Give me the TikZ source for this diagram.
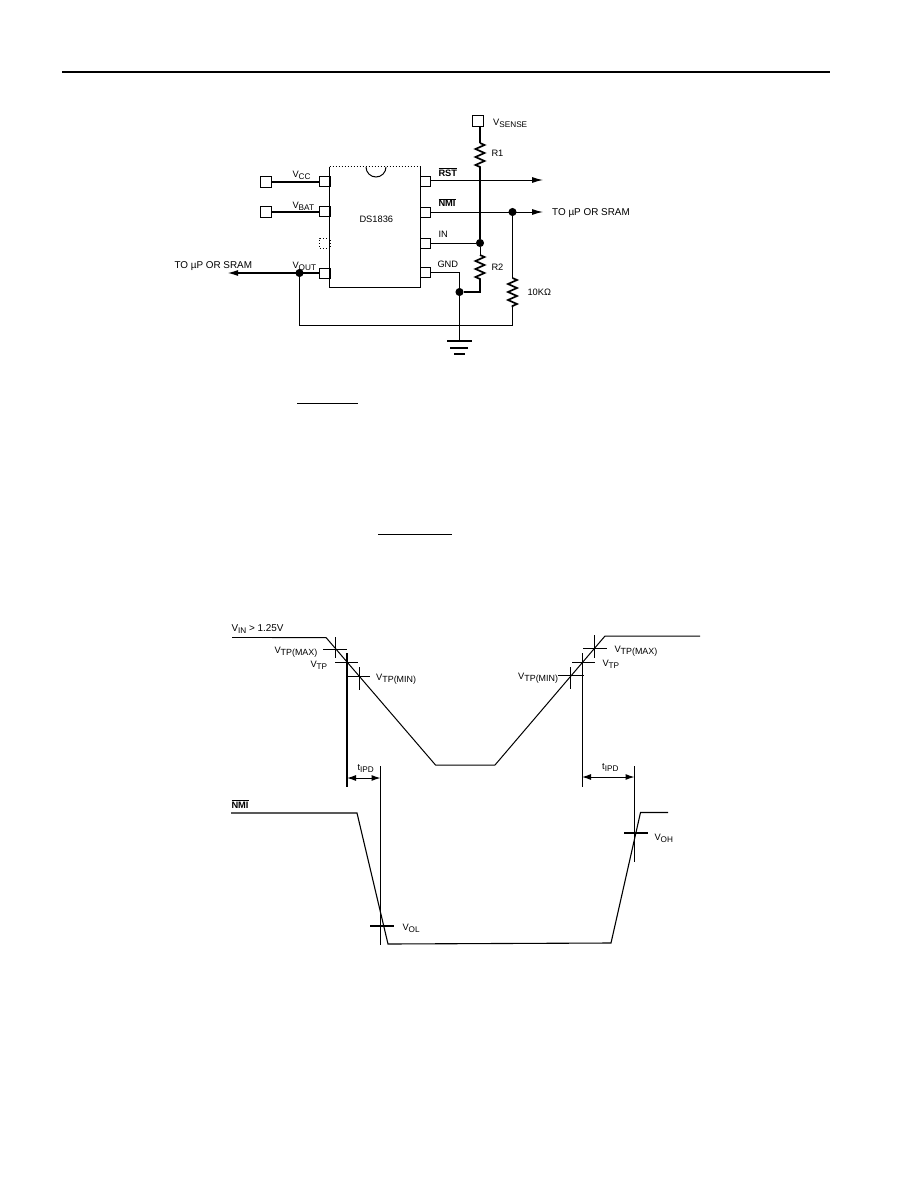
\documentclass[tikz,border=0pt]{standalone}
\usepackage{fontspec}
\setmainfont{Liberation Sans}
\usetikzlibrary{arrows.meta,decorations.pathmorphing}
\newcommand{\volt}[1]{V\raisebox{-2pt}{\fontsize{8.2}{9}\selectfont #1}}
\newcommand{\voltw}[1]{V\raisebox{-2pt}{\fontsize{8.9}{9}\selectfont #1}}
\newcommand{\barred}[1]{$\overline{\mbox{\bfseries #1}}$}
\tikzset{
  pinbox/.style={draw, rectangle, inner sep=0pt, minimum width=10.5pt, minimum height=10pt},
  termbox/.style={draw, rectangle, inner sep=0pt, minimum size=11pt},
  jdot/.style={draw, circle, fill, inner sep=0pt, minimum size=7pt},
  lbl/.style={anchor=base west, inner sep=0pt, font=\fontsize{9.3}{11}\selectfont},
  lblw/.style={lbl, font=\fontsize{9.9}{11}\selectfont},
  bus/.style={line width=1.7pt},
  res/.style={decorate, decoration={zigzag, amplitude=4.5pt, segment length=8pt}},
  outarrow/.style={-{Latex[length=11pt,width=6pt]}},
  spanarrow/.style={{Latex[length=9pt,width=6pt]}-{Latex[length=9pt,width=6pt]}}
}
\begin{document}
\begin{tikzpicture}[x=1pt, y=-1pt, line width=1pt]
  \useasboundingbox (0,0) rectangle (918,1188);
  \draw[line width=2pt] (62,72) -- (830,72);

  \node[minimum width=90pt, minimum height=120pt, inner sep=0pt] (ic) at (375,227) {};
  \node[lbl] (part) at (359,222.7) {DS1836};
  \draw[bus] (ic.north west) -- (ic.south west);
  \draw (ic.south west) -- (ic.south east) -- (ic.north east);
  \draw[dotted] (ic.north west) -- (ic.north east);
  \draw[fill=white] (366,167) arc[start angle=180, end angle=360, radius=10pt];

  \node[pinbox] (pvcc) at (325,181.7) {};
  \node[pinbox] (pbat) at (325,211.7) {};
  \node[pinbox, dotted] (pnc) at (325,243) {};
  \node[pinbox] (pout) at (325,273) {};
  \node[pinbox] (prst) at (425.5,181.5) {};
  \node[pinbox] (pnmi) at (425.5,212) {};
  \node[pinbox] (pinn) at (425.5,243) {};
  \node[pinbox] (pgnd) at (425.5,272.5) {};

  \node[termbox] (tvcc) at (265.5,181.7) {};
  \node[termbox] (tbat) at (265.5,211.7) {};
  \node[termbox] (tsense) at (478,121) {};

  \node[jdot] (dout) at (299.5,273) {};
  \node[jdot] (din) at (480,243) {};
  \node[jdot] (dgnd) at (459.5,292) {};
  \node[jdot] (dnmi) at (512.5,212) {};

  \coordinate (r1a) at (480,143);
  \coordinate (r1b) at (480,170);
  \coordinate (r2a) at (480,255);
  \coordinate (r2b) at (480,282);
  \coordinate (r3a) at (512.5,278);
  \coordinate (r3b) at (512.5,307);
  \coordinate (r2c) at (480,292);
  \coordinate (gtop) at (459.5,341);
  \coordinate (gndin) at (459.5,272.5);
  \coordinate (bend) at (299.5,325);
  \coordinate (rend) at (512.5,325);
  \coordinate (rsttip) at (543,180);
  \coordinate (nmitip) at (543,212);
  \coordinate (outtip) at (227,273);

  \draw[bus] (tvcc) -- (pvcc);
  \draw[bus] (tbat) -- (pbat);
  \draw[bus, outarrow] (pout) -- (outtip);
  \draw (dout) -- (bend) -- (rend) -- (r3b);
  \draw[outarrow] (prst.east |- rsttip) -- (rsttip);
  \draw[outarrow] (pnmi) -- (nmitip);
  \draw (pinn) -- (din);
  \draw (pgnd) -- (gndin) -- (dgnd);
  \draw (dgnd) -- (gtop);

  \draw[bus] (tsense.south -| r1a) -- (r1a);
  \draw[bus, res] (r1a) -- (r1b);
  \draw[bus] (r1b) -- (din);
  \draw (din) -- (r2a);
  \draw[bus, res] (r2a) -- (r2b);
  \draw[bus] (r2b) -- (r2c) -- (dgnd);
  \draw (dnmi) -- (r3a);
  \draw[bus, res] (r3a) -- (r3b);

  \draw[line width=2pt] (447,341) -- (472,341);
  \draw[line width=2pt] (450,348) -- (468,348);
  \draw[line width=2pt] (454,354) -- (465,354);

  \node[lbl] (lvcc) at (292,177) {\volt{CC}};
  \node[lbl] (lbat) at (292,208) {\volt{BAT}};
  \node[lbl] (lout) at (292,268) {\volt{OUT}};
  \node[lblw] (lto) at (174,268) {TO µP OR SRAM};
  \node[lbl] (lrst) at (438,176) {\barred{RST}};
  \node[lbl] (lnmi) at (438,206.7) {\barred{NMI}};
  \node[lbl] (lin) at (438,237.7) {IN};
  \node[lbl] (lgnd) at (437,267.7) {GND};
  \node[lbl] (lsense) at (492.7,125.7) {\volt{SENSE}};
  \node[lbl] (lr1) at (491,156.7) {R1};
  \node[lbl] (lr2) at (491,270.7) {R2};
  \node[lbl] (lten) at (527,295.7) {10KΩ};
  \node[lblw] (ltor) at (551.7,215.7) {TO µP OR SRAM};

  \draw (297,403) -- (358,403);
  \draw (378,534) -- (452,534);

  \draw[bus] (232,637.5) -- (272,637.5);
  \draw (272,637.5) -- (326,637.5) -- (435.5,765) -- (495,765) -- (605,636) -- (700,636);
  \draw[line width=1.1pt] (231,813) -- (357,813) -- (388,944) -- (611,943) -- (640.5,812.5) -- (668,812.5);

  \draw (335.5,637) -- (335.5,658);
  \draw (323,649) -- (347,649);
  \draw (335,662) -- (358,662);
  \draw[bus] (347,653) -- (347,787);
  \draw (359,667) -- (359,690);
  \draw (347,676) -- (370,676);
  \draw (380.5,766) -- (380.5,945);
  \draw[spanarrow] (347,778) -- (380.5,778);
  \draw[line width=1.3pt] (370,926) -- (394,926);

  \draw (594,635) -- (594,658);
  \draw (583,648) -- (607,648);
  \draw (572,662) -- (595,662);
  \draw (582,653) -- (582,787);
  \draw (570,667) -- (570,689);
  \draw (558,675) -- (584,675);
  \draw (634.5,766) -- (634.5,862);
  \draw[spanarrow] (582,777) -- (634.5,777);
  \draw[line width=1.3pt] (624,833) -- (648,833);

  \node[lblw] (lvin) at (231,631.7) {\volt{IN} > 1.25V};
  \node[lbl] (lmaxa) at (274,653) {\voltw{TP(MAX)}};
  \node[lbl] (ltpa) at (310,667) {\volt{TP}};
  \node[lbl] (lmina) at (375.7,680) {\voltw{TP(MIN)}};
  \node[lbl] (ltpda) at (357,770) {t\raisebox{-2pt}{\fontsize{8.2}{9}\selectfont IPD}};
  \node[lbl] (lnmib) at (231,808) {\barred{NMI}};
  \node[lbl] (lvol) at (402,930.7) {\volt{OL}};
  \node[lbl] (lvoh) at (654,840.7) {\volt{OH}};
  \node[lbl] (lmaxb) at (614,652.7) {\voltw{TP(MAX)}};
  \node[lbl] (ltpb) at (602,666.7) {\volt{TP}};
  \node[lbl] (lminb) at (517.7,679) {\voltw{TP(MIN)}};
  \node[lbl] (ltpdb) at (601.7,769) {t\raisebox{-2pt}{\fontsize{8.2}{9}\selectfont IPD}};
\end{tikzpicture}
\end{document}
